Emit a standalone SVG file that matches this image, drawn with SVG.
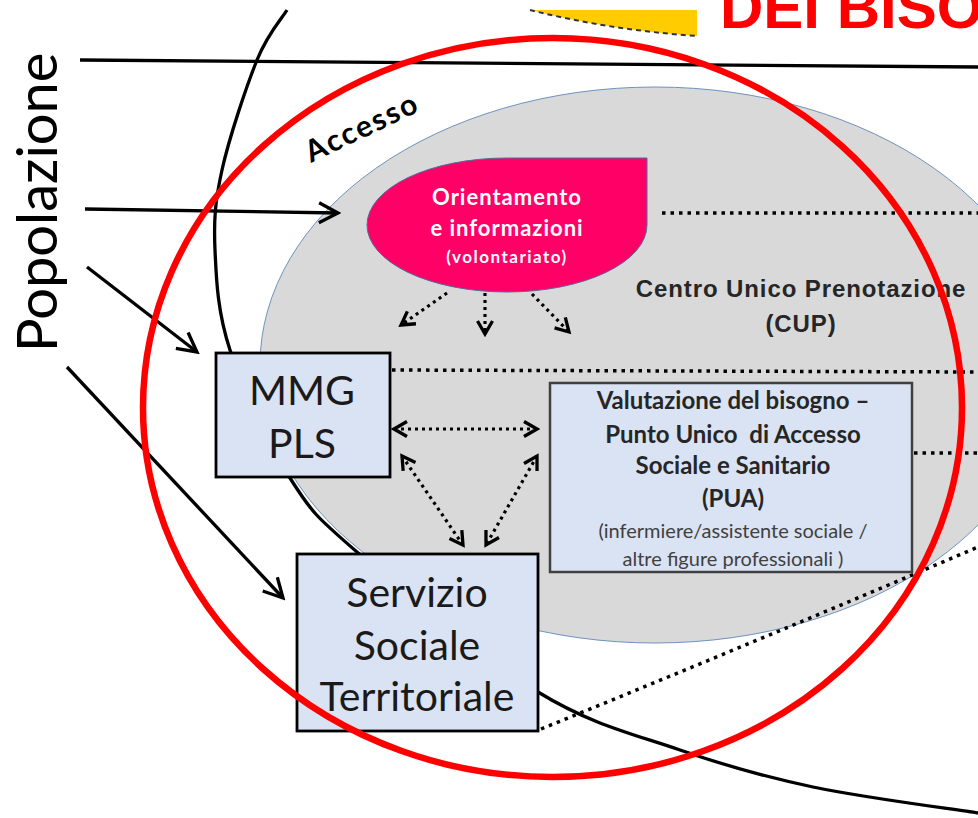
<svg xmlns="http://www.w3.org/2000/svg" width="978" height="818" viewBox="0 0 978 818">
<defs>
<style>
.cal{font-family:Lato,"Open Sans","Liberation Sans",sans-serif}
.box{fill:#DAE3F3;stroke:#000;stroke-width:2.8}
.solid{fill:none;stroke:#000;stroke-width:3.3}
.dot{fill:none;stroke:#000;stroke-width:3.5;stroke-dasharray:3.5 5}
.darr{fill:none;stroke:#000;stroke-width:3.2;stroke-dasharray:3 4}
</style>
<marker id="ah" viewBox="-2 -12 24 24" refX="19" refY="0" markerWidth="24" markerHeight="24" markerUnits="userSpaceOnUse" orient="auto">
<path d="M0,-10 L19,0 L0,10" fill="none" stroke="#000" stroke-width="3.3"/>
</marker>
<marker id="dh" viewBox="-2 -10 18 20" refX="13" refY="0" markerWidth="18" markerHeight="20" markerUnits="userSpaceOnUse" orient="auto-start-reverse">
<path d="M0,-7.5 L13,0 L0,7.5" fill="none" stroke="#000" stroke-width="3.3"/>
</marker>
</defs>
<rect width="978" height="818" fill="#fff"/>

<g id="title">
<text x="720" y="28" font-family="Liberation Sans,Arial,sans-serif" font-weight="bold" font-size="60" fill="#FF0000">DEI BISO</text>
</g>
<g id="yellow">
<path d="M530,10 L697,10 L697,36 Q610,30 530,10 Z" fill="#FFCC00"/>
<path d="M530,10 Q610,30 697,36" fill="none" stroke="#333" stroke-width="2" stroke-dasharray="5 4"/>
</g>

<g id="access-area">
<ellipse cx="655" cy="365" rx="395" ry="278" fill="#D9D9D9" stroke="#6E93BE" stroke-width="1"/>
</g>

<g id="connectors">
<line x1="80" y1="60" x2="978" y2="67" class="solid"/>
<path class="solid" d="M287,10 C282,18.3 267.8,33.3 257,60 C246.2,86.7 229,138.3 222,170 C215,201.7 213.7,220 215,250 C216.3,280 217.5,312 230,350 C242.5,388 268.8,444.3 290,478 C311.2,511.7 315.7,516.3 357,552 C398.3,587.7 484.2,659 538,692 C591.8,725 634.2,734.2 680,750 C725.8,765.8 763.3,776.5 813,787 C862.7,797.5 950.5,808.7 978,813"/>
<line x1="85" y1="209" x2="338" y2="213" class="solid" marker-end="url(#ah)"/>
<line x1="87" y1="267" x2="197" y2="352" class="solid" marker-end="url(#ah)"/>
<line x1="67" y1="367" x2="283" y2="598" class="solid" marker-end="url(#ah)"/>
<line x1="662" y1="213" x2="978" y2="213" class="dot"/>
<line x1="392" y1="370" x2="978" y2="372" class="dot"/>
<line x1="914" y1="453" x2="978" y2="453" class="dot"/>
<path d="M541,729 Q760,640 978,547" class="dot"/>
<line x1="447" y1="293" x2="401" y2="325" class="darr" marker-end="url(#dh)"/>
<line x1="485" y1="293" x2="485" y2="334" class="darr" marker-end="url(#dh)"/>
<line x1="532" y1="294" x2="569" y2="332" class="darr" marker-end="url(#dh)"/>
<line x1="394" y1="429" x2="537" y2="429" class="darr" marker-start="url(#dh)" marker-end="url(#dh)"/>
<line x1="402" y1="456" x2="463" y2="545" class="darr" marker-start="url(#dh)" marker-end="url(#dh)"/>
<line x1="537" y1="456" x2="486" y2="545" class="darr" marker-start="url(#dh)" marker-end="url(#dh)"/>
</g>

<g id="popolazione">
<text class="cal" transform="translate(57,352) rotate(-90)" font-size="56" fill="#000">Popolazione</text>
</g>
<g id="accesso">
<text class="cal" transform="translate(311,163) rotate(-25.5)" font-size="30" font-weight="bold" letter-spacing="2" fill="#000">Accesso</text>
</g>

<g id="orientamento">
<path d="M507,158 L647,158 L647,225 A140,67 0 0 1 507,292 A140,67 0 0 1 367,225 A140,67 0 0 1 507,158 Z" fill="#FF0066" stroke="#4F6FA0" stroke-width="1"/>
<text class="cal" x="507" y="205" text-anchor="middle" font-size="22" font-weight="bold" letter-spacing="1" fill="#fff">Orientamento</text>
<text class="cal" x="507" y="236" text-anchor="middle" font-size="22" font-weight="bold" letter-spacing="1" fill="#fff">e informazioni</text>
<text class="cal" x="507" y="263" text-anchor="middle" font-size="17" font-weight="bold" letter-spacing="1.5" fill="#fff">(volontariato)</text>
</g>

<g id="cup">
<text x="801" y="297" text-anchor="middle" font-family="Liberation Sans,Arial,sans-serif" font-weight="bold" font-size="24" letter-spacing="0.9" fill="#262626">Centro Unico Prenotazione</text>
<text x="801" y="332" text-anchor="middle" font-family="Liberation Sans,Arial,sans-serif" font-weight="bold" font-size="24" letter-spacing="0.9" fill="#262626">(CUP)</text>
</g>

<g id="mmg">
<rect x="216" y="353" width="174" height="124" class="box"/>
<text class="cal" x="302" y="405" text-anchor="middle" font-size="41" fill="#1a1a1a">MMG</text>
<text class="cal" x="302" y="458" text-anchor="middle" font-size="41" fill="#1a1a1a">PLS</text>
</g>

<g id="pua">
<rect x="550" y="383" width="362" height="189" fill="#DAE3F3" stroke="#404040" stroke-width="2.5"/>
<text class="cal" x="733" y="409" text-anchor="middle" font-size="24" font-weight="bold" fill="#262626">Valutazione del bisogno –</text>
<text class="cal" x="733" y="443" text-anchor="middle" font-size="24" font-weight="bold" fill="#262626" xml:space="preserve">Punto Unico  di Accesso</text>
<text class="cal" x="733" y="474" text-anchor="middle" font-size="24" font-weight="bold" fill="#262626">Sociale e Sanitario</text>
<text class="cal" x="733" y="507" text-anchor="middle" font-size="24" font-weight="bold" fill="#262626">(PUA)</text>
<text class="cal" x="733" y="538" text-anchor="middle" font-size="20" fill="#404040">(infermiere/assistente sociale /</text>
<text class="cal" x="733" y="566" text-anchor="middle" font-size="20" fill="#404040">altre figure professionali )</text>
</g>

<g id="servizio">
<rect x="297" y="554" width="241" height="177" class="box"/>
<text class="cal" x="417" y="607" text-anchor="middle" font-size="41" fill="#1a1a1a">Servizio</text>
<text class="cal" x="417" y="660" text-anchor="middle" font-size="41" fill="#1a1a1a">Sociale</text>
<text class="cal" x="417" y="711" text-anchor="middle" font-size="41" fill="#1a1a1a">Territoriale</text>
</g>

<g id="highlight">
<ellipse cx="552.5" cy="407.5" rx="409.5" ry="369.5" fill="none" stroke="#FF0000" stroke-width="6.5"/>
</g>
</svg>
